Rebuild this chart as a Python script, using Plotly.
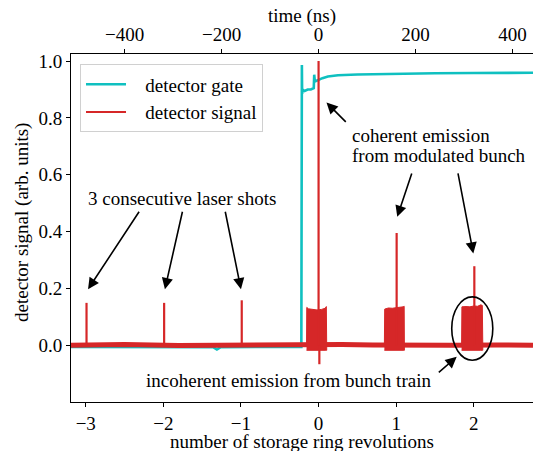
import plotly.graph_objects as go

# ---------------- data ----------------
REV_NS = 160.0                      # one storage-ring revolution in ns
x_range = [-3.19, 2.763]            # revolutions

# detector gate (cyan)
gate_x = [-3.19, -1.36, -1.31, -1.26, -0.222, -0.215, -0.212, -0.205, -0.18, -0.14,
          -0.10, -0.062, -0.056, -0.048, -0.02, 0.0, 0.05, 0.12, 0.25, 0.5, 1.0,
          1.5, 2.0, 2.5, 2.763]
gate_y = [-0.006, -0.007, -0.015, -0.007, -0.006, 0.986, 0.885, 0.9, 0.895, 0.9,
          0.9, 0.905, 0.952, 0.928, 0.932, 0.933, 0.94, 0.946, 0.95, 0.953, 0.956,
          0.957, 0.958, 0.958, 0.959]

# detector signal: baseline
base_x = [-3.19, -2.5, -1.8, -1.2, -0.6, -0.3, 0.3, 0.7, 1.4, 1.7, 2.3, 2.763]
base_y = [0.0, 0.002, -0.001, 0.001, 0.0, 0.0, 0.002, 0.001, -0.001, 0.0, 0.001, 0.0]

# detector signal: narrow spikes (laser shots and coherent emission)
spike_x = [-2.99, -1.99, -0.99, 0.0, 1.006, 2.007]
spike_y = [0.149, 0.149, 0.158, 1.0, 0.395, 0.278]
neg_spike_x = [0.01]
neg_spike_y = [-0.067]

# detector signal: bunch-train bursts (envelope tops, common bottom)
burst0_x = [-0.155, -0.152, -0.13, -0.08, -0.02, 0.04, 0.085, 0.1, 0.105]
burst0_y = [0.0, 0.133, 0.128, 0.126, 0.124, 0.126, 0.13, 0.136, 0.0]
burst1_x = [0.848, 0.852, 0.9, 0.95, 1.0, 1.05, 1.09, 1.103, 1.106]
burst1_y = [0.0, 0.127, 0.131, 0.13, 0.132, 0.133, 0.135, 0.137, 0.0]
burst2_x = [1.843, 1.847, 1.9, 1.95, 2.0, 2.05, 2.09, 2.11, 2.116]
burst2_y = [0.0, 0.135, 0.136, 0.135, 0.138, 0.137, 0.142, 0.14, 0.0]
burst_bottom = [-0.018, -0.018, -0.018]

# annotation arrows (head = tip, tail = start), data coordinates
arrow_head_x = [-2.97, -1.98, -1.0, 0.102, 1.014, 1.994, 1.78]
arrow_head_y = [0.197, 0.197, 0.197, 0.854, 0.452, 0.323, -0.041]
arrow_tail_x = [-2.30, -1.75, -1.206, 0.37, 1.207, 1.793, 1.53]
arrow_tail_y = [0.475, 0.475, 0.475, 0.781, 0.610, 0.610, -0.100]

ellipse_x = [1.716, 2.245]
ellipse_y = [-0.053, 0.17]

top_ticks = [-400, -200, 0, 200, 400]
bottom_ticks = [-3, -2, -1, 0, 1, 2]
y_ticks = [0.0, 0.2, 0.4, 0.6, 0.8, 1.0]

# ---------------- styling ----------------
CYAN = "#0fc0c0"
RED = "#d62728"
FONT = "Liberation Serif"
FS = 19
PAD = "\u00a0\u00a0\u00a0"

fig = go.Figure()

fig.add_trace(go.Scatter(x=gate_x, y=gate_y, mode="lines", name=PAD + "detector gate",
                         line=dict(color=CYAN, width=2.6), hoverinfo="skip"))

fig.add_trace(go.Scatter(x=base_x, y=base_y, mode="lines", showlegend=False,
                         line=dict(color=RED, width=5), hoverinfo="skip"))

for bx, by, bb in zip([burst0_x, burst1_x, burst2_x], [burst0_y, burst1_y, burst2_y], burst_bottom):
    px = list(bx) + list(bx[::-1])
    py = list(by) + [bb] * len(bx)
    fig.add_trace(go.Scatter(x=px, y=py, mode="lines", fill="toself", fillcolor=RED,
                             line=dict(color=RED, width=1), showlegend=False, hoverinfo="skip"))

sx, sy = [], []
for x, y in zip(spike_x + neg_spike_x, spike_y + neg_spike_y):
    sx += [x, x, None]
    sy += [0.0, y, None]
fig.add_trace(go.Scatter(x=sx, y=sy, mode="lines", name=PAD + "detector signal",
                         line=dict(color=RED, width=2.2), hoverinfo="skip"))

# invisible trace to carry the top (time) axis
fig.add_trace(go.Scatter(x=[x_range[0] * REV_NS, x_range[1] * REV_NS], y=[None, None],
                         xaxis="x2", mode="lines", showlegend=False, hoverinfo="skip"))

annotations = []
for hx, hy, tx, ty in zip(arrow_head_x, arrow_head_y, arrow_tail_x, arrow_tail_y):
    annotations.append(dict(x=hx, y=hy, ax=tx, ay=ty, xref="x", yref="y", axref="x", ayref="y",
                            text="", showarrow=True, arrowhead=2, arrowsize=1.4,
                            arrowwidth=1.6, arrowcolor="black", standoff=0, startstandoff=0))

text_font = dict(family=FONT, size=FS, color="black")
annotations += [
    dict(x=-1.76, y=0.518, xref="x", yref="y", text="3 consecutive laser shots",
         showarrow=False, font=text_font, xanchor="center", yanchor="middle"),
    dict(x=0.405, y=0.739, xref="x", yref="y", text="coherent emission",
         showarrow=False, font=text_font, xanchor="left", yanchor="middle"),
    dict(x=0.405, y=0.669, xref="x", yref="y", text="from modulated bunch",
         showarrow=False, font=text_font, xanchor="left", yanchor="middle"),
    dict(x=-0.385, y=-0.123, xref="x", yref="y", text="incoherent emission from bunch train",
         showarrow=False, font=text_font, xanchor="center", yanchor="middle"),
    # axis titles
    dict(x=0.5, y=1, xref="paper", yref="paper", text="time (ns)", showarrow=False,
         font=text_font, xanchor="center", yanchor="middle", yshift=38, borderpad=0),
    dict(x=0.5, y=0, xref="paper", yref="paper", text="number of storage ring revolutions",
         showarrow=False, font=text_font, xanchor="center", yanchor="middle", yshift=-39,
         borderpad=0),
    dict(x=0, y=0.5, xref="paper", yref="paper", text="detector signal (arb. units)",
         showarrow=False, font=text_font, textangle=-90, xanchor="center", yanchor="middle",
         xshift=-49, yshift=5, borderpad=0),
]

shapes = [dict(type="circle", xref="x", yref="y", x0=ellipse_x[0], x1=ellipse_x[1],
               y0=ellipse_y[0], y1=ellipse_y[1], line=dict(color="black", width=1.6))]

axis_common = dict(showline=True, linecolor="black", linewidth=1, ticks="outside",
                   ticklen=4, tickwidth=1, tickcolor="black", showgrid=False, zeroline=False,
                   tickfont=dict(family=FONT, size=FS, color="black"))

fig.update_layout(
    width=533, height=451, autosize=False,
    margin=dict(l=71, r=0, t=54, b=49),
    paper_bgcolor="white", plot_bgcolor="white",
    font=dict(family=FONT, size=FS, color="black"),
    xaxis=dict(range=x_range, tickvals=bottom_ticks, **axis_common),
    xaxis2=dict(range=[x_range[0] * REV_NS, x_range[1] * REV_NS], overlaying="x", side="top",
                anchor="y", tickvals=top_ticks, **axis_common),
    yaxis=dict(range=[-0.2, 1.025], tickvals=y_ticks, tickformat=".1f", **axis_common),
    legend=dict(x=0.0195, y=0.97, xanchor="left", yanchor="top", bgcolor="white",
                bordercolor="#d0d0d0", borderwidth=1, font=dict(family=FONT, size=FS),
                tracegroupgap=0, itemwidth=40),
    annotations=annotations,
    shapes=shapes,
    showlegend=True,
)

# remove the browser's default 8 px body margin so the figure fills the window
fig.write_html("out.html", config={"displayModeBar": False},
               post_script="document.body.style.margin='0';")
